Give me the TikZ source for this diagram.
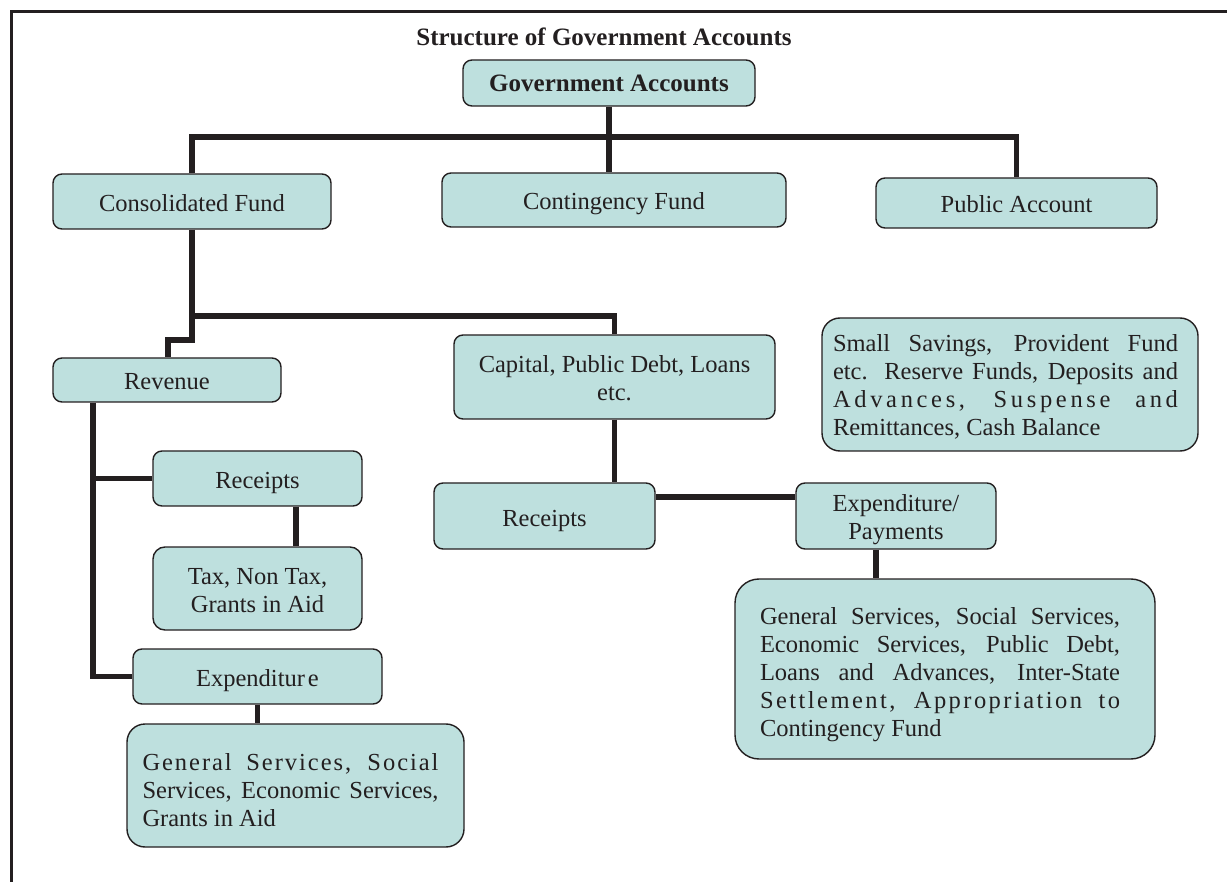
\documentclass[tikz,border=0pt]{standalone}
\usepackage{fontspec}
\setmainfont{Liberation Serif}
\definecolor{boxfill}{RGB}{190,224,222}
\definecolor{ink}{RGB}{35,31,32}
\newcommand\jline[2]{\makebox[#1][s]{#2}}
\newcommand\jlsline[3]{{\addfontfeature{LetterSpace=#2}\makebox[#1][s]{#3}}}
\newcommand\lowr[1]{\rule{0pt}{#1}}
\begin{document}
\begin{tikzpicture}[x=1pt,y=-1pt,
  box/.style={draw=ink, line width=1.4pt, fill=boxfill, rounded corners=9pt, inner sep=0pt, align=center, text=ink, font=\fontsize{24.5}{28}\selectfont},
  one/.style={text height=25pt, text depth=5pt},
  conn/.style={draw=ink, line width=5.5pt},
  frame/.style={draw=ink, line width=2.6pt}]
\useasboundingbox (0,0) rectangle (1227,882);
\draw[frame] (1227,11.5) -- (11.5,11.5) -- (11.5,882);
\node[font=\bfseries\fontsize{25}{30}\selectfont, text=ink] (title) at (604,37) {Structure of Government Accounts};
\node[box, minimum width=292pt, minimum height=46pt, font=\bfseries\fontsize{25}{30}\selectfont, text height=23pt, text depth=5pt] (ga) at (609,83) {Government Accounts};
\node[box, one, minimum width=278pt, minimum height=55pt] (cf) at (192,201.5) {Consolidated Fund};
\node[box, one, minimum width=344pt, minimum height=54pt] (cont) at (614,200) {Contingency Fund};
\node[box, one, minimum width=281pt, minimum height=50pt] (pa) at (1016.5,203) {Public Account};
\node[box, one, minimum width=228pt, minimum height=44pt] (rev) at (167,380) {Revenue};
\node[box, minimum width=321pt, minimum height=84pt] (cap) at (614.5,377) {\lowr{20pt}Capital, Public Debt, Loans\\etc.};
\node[box, minimum width=376pt, minimum height=133pt, rounded corners=18pt, align=left] (ss) at (1010,384.5) {\lowr{22pt}\jline{345pt}{Small Savings, Provident Fund}\hspace*{9pt}\\\jline{345pt}{etc. Reserve Funds, Deposits and}\\\jlsline{345pt}{15}{Advances, Suspense and}\\Remittances, Cash Balance};
\node[box, one, minimum width=209pt, minimum height=55pt] (rec1) at (257.5,478.5) {Receipts};
\node[box, minimum width=209pt, minimum height=83pt, rounded corners=12pt] (tax) at (257.5,588.5) {\lowr{21pt}Tax, Non Tax,\\Grants in Aid};
\node[box, one, minimum width=249pt, minimum height=55pt] (exp1) at (257.5,676.5) {Expenditur\kern3pt e};
\node[box, minimum width=337pt, minimum height=123pt, rounded corners=18pt, align=left] (gen1) at (295.5,785.5) {\lowr{27pt}\jlsline{296pt}{8}{General Services, Social}\hspace*{10pt}\\\jline{296pt}{Services, Economic Services,}\\Grants in Aid};
\node[box, one, minimum width=221pt, minimum height=66pt] (rec2) at (544.5,516) {Receipts};
\node[box, minimum width=200pt, minimum height=66pt] (ep) at (896,516) {\lowr{25pt}Expenditure/\\Payments};
\node[box, minimum width=420pt, minimum height=180pt, rounded corners=24pt, align=left] (gen2) at (945,669) {\lowr{29pt}\jline{360pt}{General Services, Social Services,}\hspace*{10pt}\\\jline{360pt}{Economic Services, Public Debt,}\\\jline{360pt}{Loans and Advances, Inter-State}\\\jlsline{360pt}{10}{Settlement, Appropriation to}\\Contingency Fund};
% connectors
\coordinate (bar) at (609,137);
\draw[conn] (ga.south) -- (ga.south |- bar);
\draw[conn] (cf.north) |- (bar) -| (pa.north);
\draw[conn] (ga.south |- bar) -- (ga.south |- cont.north);
\coordinate (j1) at (192,316);
\coordinate (j2) at (168,340);
\draw[conn] (cf.south) -- (j1) -| (cap.north);
\draw[conn] (j1) |- (j2) -- (rev.north -| j2);
\coordinate (rl) at (93,0);
\coordinate (rb) at (93,478.5);
\draw[conn] (rev.south -| rl) |- (exp1.west);
\draw[conn] (rb) -- (rec1.west);
\coordinate (tx) at (296,0);
\draw[conn] (rec1.south -| tx) -- (tax.north -| tx);
\draw[conn] (exp1.south) -- (exp1.south |- gen1.north);
\draw[conn] (cap.south) -- (cap.south |- rec2.north);
\coordinate (h2) at (0,497);
\draw[conn] (rec2.east |- h2) -- (ep.west |- h2);
\coordinate (g2) at (876,0);
\draw[conn] (ep.south -| g2) -- (gen2.north -| g2);
\end{tikzpicture}
\end{document}
